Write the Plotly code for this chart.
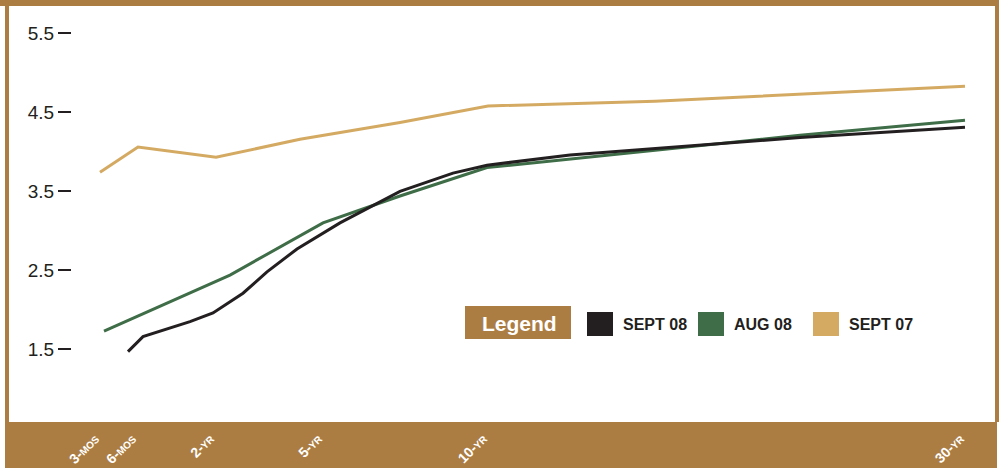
import plotly.graph_objects as go

# ---------------- data ----------------
# positions along the (non-linear) maturity axis
tick_pos = [100, 137, 215, 323, 488, 965]
tick_num = ["3", "6", "2", "5", "10", "30"]
tick_unit = ["MOS", "MOS", "YR", "YR", "YR", "YR"]

sept08_x = [128, 143, 190, 213, 243, 267, 297, 340, 400, 453, 487, 570, 800, 965]
sept08_y = [1.47, 1.66, 1.85, 1.96, 2.21, 2.48, 2.77, 3.10, 3.50, 3.73, 3.83, 3.96, 4.18, 4.31]

aug08_x = [104, 230, 323, 400, 487, 800, 965]
aug08_y = [1.73, 2.44, 3.10, 3.44, 3.80, 4.21, 4.40]

sept07_x = [100, 138, 216, 300, 400, 488, 655, 965]
sept07_y = [3.74, 4.06, 3.93, 4.16, 4.37, 4.58, 4.64, 4.83]

series_names = ["SEPT 08", "AUG 08", "SEPT 07"]
series_colors = ["#231F20", "#3E6D47", "#D4AA63"]

y_ticks = [1.5, 2.5, 3.5, 4.5, 5.5]

# ---------------- styling / layout ----------------
W, H = 999, 468
PLOT_BOTTOM = 422          # px: bottom of the plotting area
AXIS_LEFT = 72             # px: position of the y axis
BROWN = "#AC7D42"
TEXT = "#231F20"

def pxx(px):
    return px / W

def pxy(py):
    return (PLOT_BOTTOM - py) / PLOT_BOTTOM

fig = go.Figure()

data_sets = [(sept07_x, sept07_y, 2), (aug08_x, aug08_y, 1), (sept08_x, sept08_y, 0)]
for xs, ys, idx in data_sets:
    fig.add_trace(go.Scatter(
        x=xs, y=ys, mode="lines", name=series_names[idx],
        line=dict(color=series_colors[idx], width=3),
        showlegend=False, hoverinfo="skip"))

ticktext = [f"<b>{n}-<span style='font-size:10px'>{u}</span></b>" for n, u in zip(tick_num, tick_unit)]

shapes = [
    # frame
    dict(type="rect", xref="paper", yref="paper", x0=0, x1=1, y0=pxy(6), y1=pxy(0),
         fillcolor=BROWN, line_width=0, layer="below"),
    dict(type="rect", xref="paper", yref="paper", x0=pxx(5), x1=pxx(9), y0=pxy(PLOT_BOTTOM), y1=pxy(0),
         fillcolor=BROWN, line_width=0, layer="below"),
    dict(type="rect", xref="paper", yref="paper", x0=pxx(995), x1=pxx(999), y0=pxy(PLOT_BOTTOM), y1=pxy(0),
         fillcolor=BROWN, line_width=0, layer="below"),
    dict(type="rect", xref="paper", yref="paper", x0=pxx(5), x1=pxx(997), y0=pxy(468), y1=pxy(PLOT_BOTTOM),
         fillcolor=BROWN, line_width=0, layer="below"),
    # legend title box
    dict(type="rect", xref="paper", yref="paper", x0=pxx(465), x1=pxx(571), y0=pxy(339), y1=pxy(306),
         fillcolor=BROWN, line_width=0, layer="above"),
]
annotations = [
    dict(xref="paper", yref="paper", x=pxx(519), y=pxy(323), text="<b>Legend</b>", showarrow=False,
         xanchor="center", yanchor="middle", font=dict(family="Liberation Sans", size=21, color="white")),
]
legend_sq_x = [587, 698, 813]
for i, name in enumerate(series_names):
    x0 = legend_sq_x[i]
    shapes.append(dict(type="rect", xref="paper", yref="paper", x0=pxx(x0), x1=pxx(x0 + 26),
                       y0=pxy(336), y1=pxy(312), fillcolor=series_colors[i], line_width=0, layer="above"))
    annotations.append(dict(xref="paper", yref="paper", x=pxx(x0 + 34), y=pxy(324), text=f"<b>{name}</b>",
                            showarrow=False, xanchor="left", yanchor="middle",
                            font=dict(family="Liberation Sans", size=16, color=TEXT)))

y_top = 5.5 + 33.3 / 79
y_bot = 5.5 - (PLOT_BOTTOM - 33.3) / 79

fig.update_layout(
    width=W, height=H,
    margin=dict(l=0, r=0, t=0, b=H - PLOT_BOTTOM, pad=0, autoexpand=False),
    paper_bgcolor="white",
    plot_bgcolor="rgba(0,0,0,0)",
    showlegend=False,
    xaxis=dict(domain=[AXIS_LEFT / W, 1], range=[AXIS_LEFT, W], showgrid=False, zeroline=False,
               showline=False, tickmode="array", tickvals=tick_pos, ticktext=ticktext,
               tickangle=-45, ticks="", ticklabelstandoff=5, ticklabelshift=-5, automargin=False,
               tickfont=dict(family="Liberation Sans", size=14, color="white")),
    yaxis=dict(range=[y_bot, y_top], showgrid=False, zeroline=False, showline=False, automargin=False,
               tickmode="array", tickvals=y_ticks, ticktext=[f"{v:.1f}" for v in y_ticks],
               ticks="outside", ticklen=13, tickwidth=1.5, tickcolor=TEXT,
               tickfont=dict(family="Liberation Sans", size=19, color=TEXT)),
    shapes=shapes,
    annotations=annotations,
)

fig.write_html("out.html")
